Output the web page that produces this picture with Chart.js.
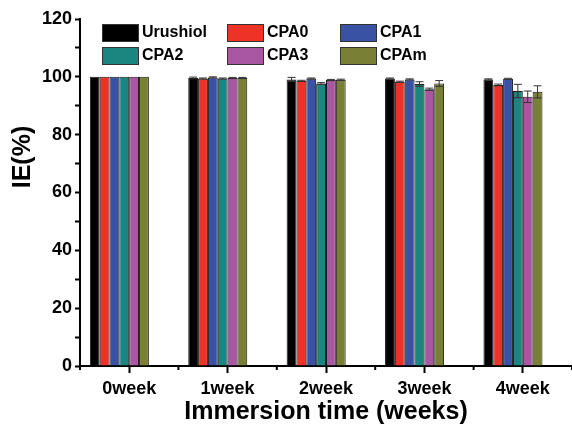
<!DOCTYPE html>
<html>
<head>
<meta charset="utf-8">
<script src="https://cdn.jsdelivr.net/npm/chart.js@4/dist/chart.umd.min.js"></script>
<style>
  html, body { margin: 0; padding: 0; background: #fff; }
  #wrap { width: 572px; height: 427px; }
</style>
</head>
<body>
<div id="wrap"><canvas id="ieChart"></canvas></div>
<script>
var weeks = ['0week', '1week', '2week', '3week', '4week'];
var seriesNames = ['Urushiol', 'CPA0', 'CPA1', 'CPA2', 'CPA3', 'CPAm'];
var seriesColors = ['#000000', '#EE3228', '#3A52A3', '#1B8580', '#A957A2', '#7A7F36'];

var urushiol = [100, 99.6, 99.1, 99.4, 99.1];
var cpa0     = [100, 99.4, 98.6, 98.3, 97.2];
var cpa1     = [100, 99.8, 99.4, 99.1, 99.3];
var cpa2     = [100, 99.4, 97.7, 97.5, 95.1];
var cpa3     = [100, 99.6, 98.9, 95.7, 93.1];
var cpam     = [100, 99.6, 99.0, 97.7, 94.8];

var urushiolErr = [0, 0.3, 0.7, 0.2, 0.2];
var cpa0Err     = [0, 0.2, 0.2, 0.2, 0.3];
var cpa1Err     = [0, 0.2, 0.2, 0.2, 0.2];
var cpa2Err     = [0, 0.2, 0.3, 0.8, 2.3];
var cpa3Err     = [0, 0.2, 0.2, 0.4, 2.0];
var cpamErr     = [0, 0.2, 0.2, 1.0, 2.1];

var allValues = [urushiol, cpa0, cpa1, cpa2, cpa3, cpam];
var allErrors = [urushiolErr, cpa0Err, cpa1Err, cpa2Err, cpa3Err, cpamErr];

var datasets = [];
for (var i = 0; i < seriesNames.length; i++) {
    datasets.push({
        label: seriesNames[i],
        data: allValues[i],
        errors: allErrors[i],
        backgroundColor: seriesColors[i],
        borderColor: '#1a1a1a',
        borderWidth: 1
    });
}
// two empty slots so the group sits left of the tick, like the original plot
datasets.push({ label: '', data: [] });
datasets.push({ label: '', data: [] });

var errorBars = {
    id: 'errorBars',
    afterDatasetsDraw: function(chart) {
        var ctx = chart.ctx;
        var y = chart.scales.y;
        ctx.save();
        ctx.strokeStyle = '#333';
        ctx.lineWidth = 1;
        chart.data.datasets.forEach(function(ds, di) {
            if (!ds.errors) return;
            var meta = chart.getDatasetMeta(di);
            meta.data.forEach(function(bar, i) {
                var e = ds.errors[i];
                if (!e) return;
                var top = y.getPixelForValue(ds.data[i] + e);
                var bot = y.getPixelForValue(ds.data[i] - e);
                ctx.beginPath();
                ctx.moveTo(bar.x, top); ctx.lineTo(bar.x, bot);
                ctx.moveTo(bar.x - 4, top); ctx.lineTo(bar.x + 4, top);
                ctx.moveTo(bar.x - 4, bot); ctx.lineTo(bar.x + 4, bot);
                ctx.stroke();
            });
        });
        ctx.restore();
    }
};

// short ticks on the category boundaries + the rotated y title
var extras = {
    id: 'extras',
    afterDraw: function(chart) {
        var ctx = chart.ctx;
        var area = chart.chartArea;
        var step = (area.right - area.left) / weeks.length;
        ctx.save();
        ctx.strokeStyle = '#000';
        ctx.lineWidth = 2;
        for (var k = 0; k <= weeks.length; k++) {
            var px = area.left + k * step;
            ctx.beginPath();
            ctx.moveTo(px, area.bottom);
            ctx.lineTo(px, area.bottom + 4);
            ctx.stroke();
        }
        ctx.translate(23, 157);
        ctx.rotate(-Math.PI / 2);
        ctx.font = 'bold 25px "Liberation Sans", Arial, sans-serif';
        ctx.fillStyle = '#000';
        ctx.textAlign = 'center';
        ctx.textBaseline = 'middle';
        ctx.fillText('IE(%)', 0, 0);
        ctx.restore();
    }
};

var boxLegend = {
    id: 'boxLegend',
    afterDraw: function(chart) {
        var ctx = chart.ctx;
        var area = chart.chartArea;
        var cols = [area.left + 22, area.left + 147, area.left + 260];
        var rows = [area.top + 5, area.top + 28];
        ctx.save();
        ctx.font = 'bold 16px "Liberation Sans", Arial, sans-serif';
        ctx.textBaseline = 'middle';
        for (var i = 0; i < seriesNames.length; i++) {
            var bx = cols[i % 3];
            var by = rows[Math.floor(i / 3)];
            ctx.fillStyle = seriesColors[i];
            ctx.fillRect(bx, by, 36, 17);
            ctx.strokeStyle = '#333';
            ctx.lineWidth = 1;
            ctx.strokeRect(bx + 0.5, by + 0.5, 36, 17);
            ctx.fillStyle = '#000';
            ctx.fillText(seriesNames[i], bx + 40, by + 9);
        }
        ctx.restore();
    }
};

var ieChart = new Chart(document.getElementById('ieChart').getContext('2d'), {
    type: 'bar',
    data: { labels: weeks, datasets: datasets },
    options: {
        responsive: true,
        maintainAspectRatio: false,
        animation: false,
        layout: { padding: { top: 19, right: 0, left: 0, bottom: 0 } },
        datasets: {
            bar: { categoryPercentage: 0.8, barPercentage: 1.0 }
        },
        plugins: {
            legend: { display: false },
            tooltip: { enabled: false }
        },
        scales: {
            x: {
                offset: true,
                grid: {
                    offset: false,
                    drawOnChartArea: false,
                    tickLength: 7,
                    tickWidth: 2,
                    tickColor: '#000'
                },
                border: { color: '#000', width: 2 },
                ticks: {
                    color: '#000',
                    padding: 5,
                    font: { family: 'Liberation Sans', size: 18, weight: 'bold' }
                },
                title: {
                    display: true,
                    text: 'Immersion time (weeks)',
                    color: '#000',
                    padding: { top: 3, bottom: 0 },
                    font: { family: 'Liberation Sans', size: 25, weight: 'bold' }
                },
                afterFit: function(scale) { scale.height = 61; }
            },
            y: {
                min: 0,
                max: 120,
                ticks: {
                    stepSize: 10,
                    color: '#000',
                    padding: 3,
                    font: { family: 'Liberation Sans', size: 18, weight: 'bold' },
                    callback: function(v) { return v % 20 === 0 ? v : ''; }
                },
                grid: {
                    drawOnChartArea: false,
                    tickLength: 5,
                    tickWidth: 2,
                    tickColor: '#000'
                },
                border: { color: '#000', width: 2 },
                afterFit: function(scale) { scale.width = 80; }
            }
        }
    },
    plugins: [errorBars, extras, boxLegend]
});
</script>
</body>
</html>
